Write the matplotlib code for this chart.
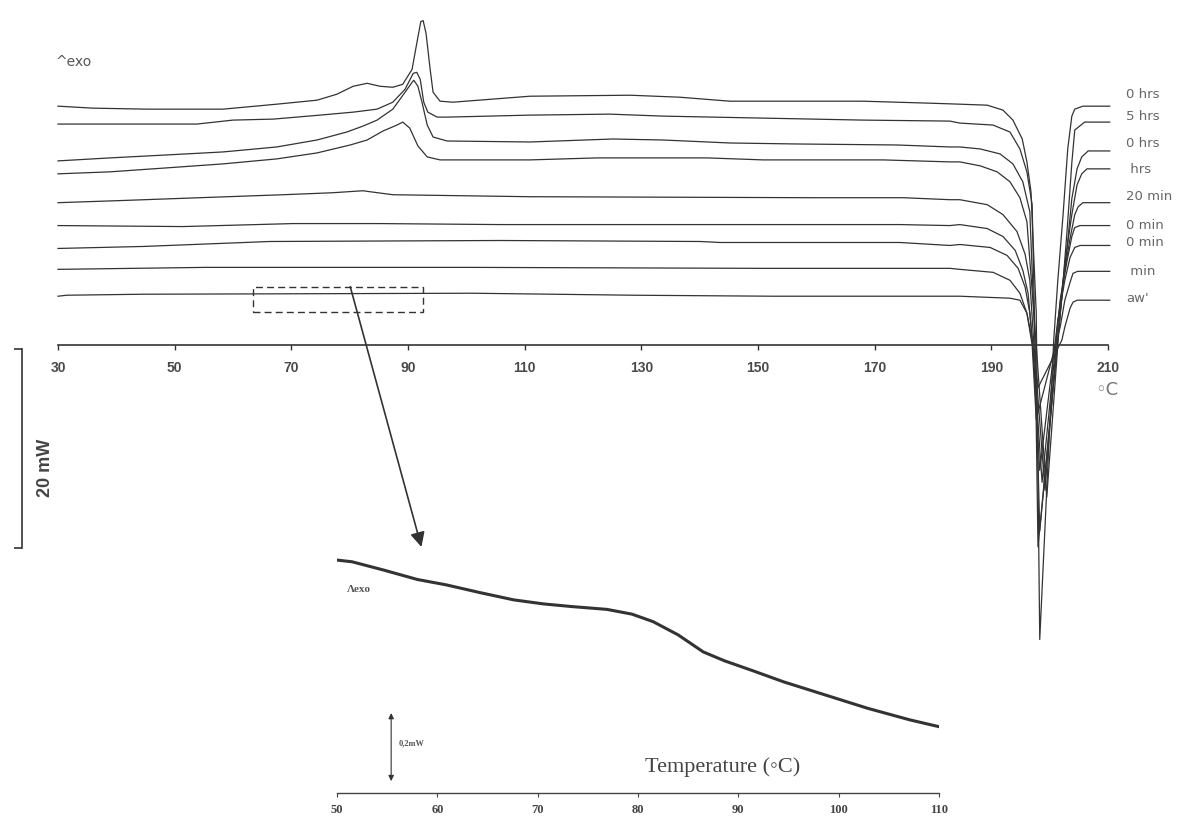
import matplotlib
matplotlib.use("Agg")
import matplotlib.pyplot as plt
from matplotlib.patches import Rectangle

# ---------------------------------------------------------------
# DSC heating scans, temperature (°C) vs heat flow (mW, offset)
# ---------------------------------------------------------------
trace_labels = ["0 hrs", "5 hrs", "0 hrs", " hrs", "20 min",
                "0 min", "0 min", " min", "aw'"]

temp_1 = [30.0, 36.0, 45.3, 58.3, 67.5, 74.4, 77.8, 80.6, 83.0, 85.2, 87.4,
          89.1, 90.7, 91.5, 92.2, 92.6, 93.1, 93.8, 94.3, 95.5, 97.7, 110.9,
          128.1, 136.6, 145.2, 168.0, 179.5, 184.6, 189.3, 192.0, 193.7,
          195.3, 196.1, 196.8, 197.7, 198.3, 200.7, 201.4, 202.3, 203.1,
          203.8, 204.3, 205.7, 210.3]
flow_1 = [24.0, 23.8, 23.7, 23.7, 24.2, 24.6, 25.2, 26.0, 26.3, 26.0, 25.9,
          26.2, 27.7, 30.3, 32.5, 32.6, 31.3, 27.7, 25.4, 24.5, 24.4, 25.0,
          25.1, 24.9, 24.5, 24.5, 24.3, 24.2, 24.1, 23.6, 22.6, 20.7, 18.4,
          15.4, 3.2, -29.6, 0.5, 6.5, 13.1, 19.7, 23.0, 23.7, 24.0, 24.0]

temp_2 = [30.0, 53.8, 60.0, 66.9, 74.9, 80.6, 84.7, 87.4, 89.5, 90.9, 91.5,
          92.1, 92.7, 93.4, 95.0, 96.7, 110.9, 124.6, 133.7, 150.9, 168.0,
          182.9, 184.6, 190.3, 193.2, 194.9, 196.1, 197.0, 197.5, 198.0,
          201.4, 202.1, 203.0, 203.8, 204.3, 206.0, 210.3]
flow_2 = [22.2, 22.2, 22.6, 22.7, 23.1, 23.4, 23.7, 24.4, 25.7, 27.3, 27.4,
          26.7, 24.4, 23.4, 22.9, 22.9, 23.1, 23.2, 23.0, 22.8, 22.6, 22.5,
          22.3, 22.1, 21.4, 19.7, 17.4, 14.1, 0.0, -20.3, 0.5, 4.8, 11.6,
          18.3, 21.6, 22.4, 22.4]

temp_3 = [30.0, 38.9, 48.7, 58.3, 67.5, 74.4, 79.5, 82.3, 84.7, 87.4, 89.5,
          90.7, 91.0, 91.7, 92.4, 93.3, 94.3, 96.7, 110.9, 125.1, 133.7,
          145.2, 156.7, 173.8, 182.9, 184.6, 188.1, 191.5, 193.7, 195.4,
          196.6, 197.5, 198.3, 201.8, 203.0, 203.8, 204.7, 205.5, 206.6, 210.3]
flow_3 = [18.5, 18.8, 19.1, 19.4, 19.9, 20.6, 21.4, 22.0, 22.6, 23.7, 25.4,
          26.4, 26.6, 26.0, 24.4, 22.1, 20.9, 20.5, 20.4, 20.7, 20.6, 20.3,
          20.2, 20.1, 19.9, 19.9, 19.7, 19.2, 18.2, 16.4, 13.4, 0.0, -18.7,
          3.2, 9.8, 14.7, 17.7, 18.9, 19.5, 19.5]

temp_4 = [30.0, 38.9, 48.7, 58.3, 67.5, 74.4, 80.1, 83.0, 85.7, 88.1, 89.1,
          90.3, 91.7, 93.3, 95.5, 110.9, 122.4, 141.3, 150.9, 171.4, 182.9,
          184.6, 188.1, 191.0, 193.2, 194.9, 196.1, 197.7, 199.5, 201.8,
          202.6, 203.8, 204.7, 205.5, 206.4, 210.3]
flow_4 = [17.2, 17.4, 17.8, 18.2, 18.7, 19.3, 20.1, 20.6, 21.5, 22.1, 22.4,
          21.8, 20.0, 18.9, 18.6, 18.6, 18.8, 18.8, 18.6, 18.6, 18.4, 18.4,
          18.0, 17.4, 16.4, 14.8, 12.4, 0.0, -15.3, 3.2, 8.2, 13.1, 16.1,
          17.2, 17.7, 17.7]

temp_5 = [30.0, 40.1, 54.3, 68.6, 77.1, 82.3, 83.5, 87.4, 110.9, 159.4,
          174.9, 182.9, 184.6, 189.3, 192.0, 194.4, 195.8, 196.6, 197.3,
          199.2, 201.4, 202.3, 203.5, 204.3, 204.9, 205.7, 210.3]
flow_5 = [14.3, 14.5, 14.8, 15.1, 15.3, 15.5, 15.4, 15.1, 14.9, 14.8, 14.8,
          14.6, 14.6, 14.1, 13.1, 11.4, 9.1, 6.5, 0.0, -14.6, 2.2, 6.5, 10.7,
          13.1, 13.9, 14.3, 14.3]

temp_6 = [30.0, 51.4, 70.3, 85.2, 105.8, 174.3, 182.9, 184.6, 189.3, 192.0,
          194.1, 195.4, 196.3, 197.1, 198.7, 201.8, 203.0, 203.8, 204.3,
          205.2, 210.3]
flow_6 = [12.0, 11.9, 12.2, 12.2, 12.1, 12.1, 12.0, 12.1, 11.7, 10.9, 9.5,
          7.5, 5.2, 0.0, -13.8, 4.5, 8.5, 10.9, 11.8, 12.0, 12.0]

temp_7 = [30.0, 44.6, 66.3, 105.8, 140.1, 143.5, 174.3, 182.9, 184.6, 189.8,
          192.7, 194.6, 195.8, 196.6, 197.1, 198.3, 201.4, 202.6, 203.5,
          204.3, 205.2, 210.3]
flow_7 = [9.7, 9.9, 10.4, 10.5, 10.4, 10.3, 10.3, 10.0, 10.1, 9.8, 9.0, 7.7,
          5.8, 3.2, 0.0, -12.6, 2.5, 6.5, 8.8, 9.8, 10.0, 10.0]

temp_8 = [30.0, 55.5, 100.1, 150.9, 182.9, 184.6, 190.3, 193.2, 194.9, 196.1,
          197.0, 197.7, 201.8, 202.6, 203.5, 204.0, 204.8, 210.3]
flow_8 = [7.6, 7.8, 7.8, 7.7, 7.7, 7.6, 7.3, 6.5, 5.2, 3.2, 0.0, -7.5, 1.8,
          4.5, 6.3, 7.2, 7.4, 7.4]

temp_9 = [30.0, 31.5, 44.6, 101.1, 128.6, 152.6, 176.1, 184.6, 193.2, 194.9,
          196.1, 197.0, 198.0, 202.1, 202.6, 203.5, 204.0, 204.7, 210.3]
flow_9 = [4.9, 5.0, 5.1, 5.2, 5.0, 4.9, 4.9, 4.9, 4.7, 4.5, 3.2, 0.5, -4.3,
          0.5, 1.8, 3.7, 4.3, 4.5, 4.5]

main_ticks = [30, 50, 70, 90, 110, 130, 150, 170, 190, 210]
scale_bar_mw = 20.0

# zoomed scan of the lowest trace (glass transition region)
zoom_temp = [50.0, 51.5, 54.6, 58.0, 60.9, 64.3, 67.6, 70.6, 73.5, 76.9,
             79.4, 81.5, 84.0, 86.5, 88.6, 91.5, 94.5, 98.7, 102.9, 107.1, 110.0]
zoom_flow = [0.491, 0.486, 0.462, 0.434, 0.418, 0.395, 0.374, 0.362, 0.354,
             0.346, 0.332, 0.310, 0.271, 0.221, 0.195, 0.165, 0.133, 0.094,
             0.055, 0.021, 0.001]
zoom_ticks = [50, 60, 70, 80, 90, 100, 110]
zoom_bar_mw = 0.2
zoom_window = (63.5, 92.5)   # temperature span marked on the lowest trace

traces = [(temp_1, flow_1), (temp_2, flow_2), (temp_3, flow_3),
          (temp_4, flow_4), (temp_5, flow_5), (temp_6, flow_6),
          (temp_7, flow_7), (temp_8, flow_8), (temp_9, flow_9)]

# vertical nudge (points) of each curve label from the curve's end
label_nudge = [8.4, 4.3, 5.5, -0.4, 4.3, 0.2, 2.4, 0.2, 1.2]

INK = "#333333"
GREY = "#555555"

fig = plt.figure(figsize=(11.77, 8.19), dpi=100)
fig.patch.set_facecolor("white")

# --- main thermograms ---
ax = fig.add_axes([0, 0, 1, 1])
ax.set_xlim(20.06, 221.83)
ax.set_ylim(-47.64, 34.67)
ax.patch.set_visible(False)

for (t, q), lab, dy in zip(traces, trace_labels, label_nudge):
    ax.plot(t, q, color=INK, lw=0.9, solid_joinstyle="round")
    ax.annotate(lab, xy=(t[-1], q[-1]), xytext=(12, dy),
                textcoords="offset points", va="center", ha="left",
                fontsize=9.5, color="#666666")

for side in ("top", "right"):
    ax.spines[side].set_visible(False)
ax.spines["bottom"].set_position(("data", 0))
ax.spines["bottom"].set_bounds(main_ticks[0], main_ticks[-1])
ax.spines["bottom"].set_color(INK)
ax.spines["bottom"].set_linewidth(1.2)
ax.set_xticks(main_ticks)
ax.tick_params(axis="x", direction="out", length=3.6, width=1.0,
               color=INK, pad=8, labelsize=10, labelcolor="#4a4a4a")
for lbl in ax.get_xticklabels():
    lbl.set_fontfamily("Liberation Sans")
    lbl.set_fontweight("bold")

# 20 mW scale bar drawn as the left spine
ax.spines["left"].set_position(("data", 23.8))
ax.spines["left"].set_bounds(-0.4 - scale_bar_mw, -0.4)
ax.spines["left"].set_color(INK)
ax.spines["left"].set_linewidth(1.2)
ax.set_yticks([-0.4 - scale_bar_mw, -0.4])
ax.set_yticklabels(["", ""])
ax.tick_params(axis="y", direction="out", length=6, width=1.2, color=INK)
ax.text(27.8, -12.4, f"{scale_bar_mw:.0f} mW", rotation=90, ha="center",
        va="center", fontsize=13, fontweight="bold", family="Liberation Sans",
        color="#444444")

ax.text(29.5, 28.4, "^exo", ha="left", va="center", fontsize=10, color=GREY)
ax.text(209.8, -4.5, "\u25e6C", ha="center", va="center", fontsize=13,
        color="#777777")

# dashed window on the lowest trace and arrow down to the zoomed scan
ax.add_patch(Rectangle((zoom_window[0], 3.35), zoom_window[1] - zoom_window[0],
                       2.51, fill=False, ec=INK, lw=1.0, ls=(0, (5, 3))))
ax.annotate("", xy=(92.3, -20.3), xytext=(80.1, 5.86),
            arrowprops=dict(arrowstyle="-|>", color=INK, lw=1.2,
                            mutation_scale=22, shrinkA=0, shrinkB=0))

# --- zoomed scan ---
ax_in = fig.add_axes([0.2863, 0.03175, 0.5115, 0.3089])
ax_in.patch.set_visible(False)
ax_in.plot(zoom_temp, zoom_flow, color=INK, lw=2.2, solid_capstyle="round",
           solid_joinstyle="round")
ax_in.set_xlim(50, 110)
ax_in.set_ylim(-0.194, 0.55)
for side in ("top", "right", "left"):
    ax_in.spines[side].set_visible(False)
ax_in.spines["bottom"].set_color("#444444")
ax_in.spines["bottom"].set_linewidth(1.0)
ax_in.set_yticks([])
ax_in.set_xticks(zoom_ticks)
ax_in.tick_params(axis="x", direction="out", length=3, width=0.8,
                  color="#444444", pad=5, labelsize=9, labelcolor="#444444")
for lbl in ax_in.get_xticklabels():
    lbl.set_fontfamily("Liberation Serif")
    lbl.set_fontweight("bold")

ax_in.annotate("", xy=(55.4, -0.159 + zoom_bar_mw), xytext=(55.4, -0.159),
               arrowprops=dict(arrowstyle="<|-|>", color=INK, lw=0.8,
                               mutation_scale=8, shrinkA=0, shrinkB=0))
ax_in.text(56.1, -0.047, "0,2mW", ha="left", va="center", fontsize=6,
           fontweight="bold", family="Liberation Serif", color=GREY)
ax_in.text(51.0, 0.403, "\u039bexo", ha="left", va="center", fontsize=8,
           fontweight="bold", family="Liberation Serif", color=GREY)
ax_in.text(88.4, -0.118, "Temperature (\u25e6C)", ha="center", va="center",
           fontsize=16, family=["Liberation Serif", "DejaVu Sans"],
           color="#444444")

fig.savefig("out.png", dpi=100, facecolor="white")
